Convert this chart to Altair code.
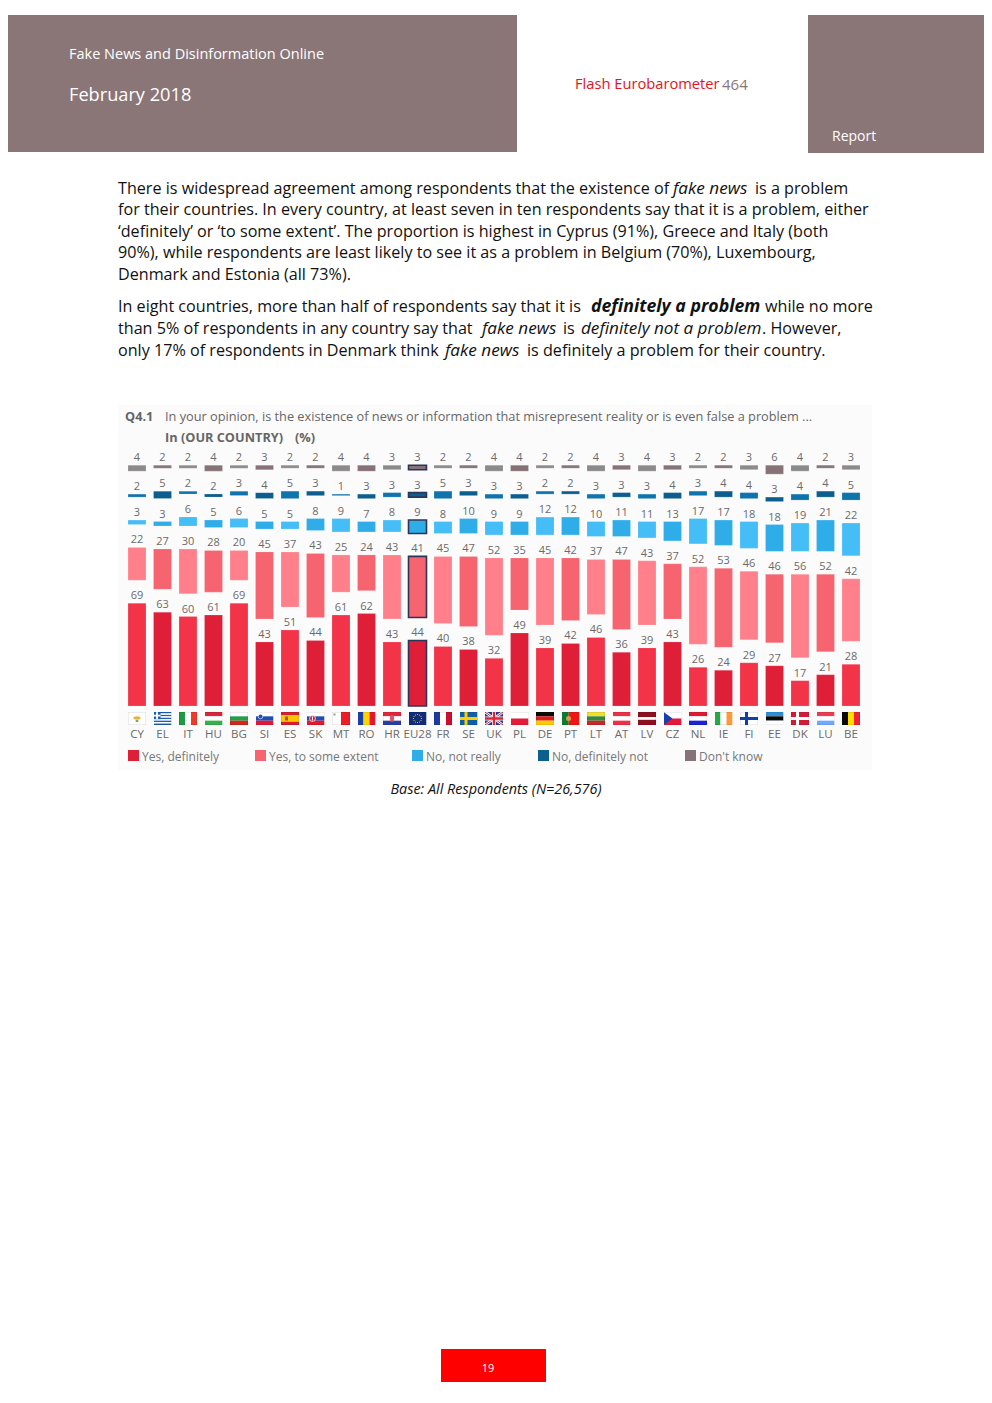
import base64
import altair as alt
import pandas as pd

countries = ["CY","EL","IT","HU","BG","SI","ES","SK","MT","RO","HR","EU28","FR","SE","UK","PL","DE","PT","LT","AT","LV","CZ","NL","IE","FI","EE","DK","LU","BE"]
yes_definitely = [69,63,60,61,69,43,51,44,61,62,43,44,40,38,32,49,39,42,46,36,39,43,26,24,29,27,17,21,28]
yes_some = [22,27,30,28,20,45,37,43,25,24,43,41,45,47,52,35,45,42,37,47,43,37,52,53,46,46,56,52,42]
no_not_really = [3,3,6,5,6,5,5,8,9,7,8,9,8,10,9,9,12,12,10,11,11,13,17,17,18,18,19,21,22]
no_definitely = [2,5,2,2,3,4,5,3,1,3,3,3,5,3,3,3,2,2,3,3,3,4,3,4,4,3,4,4,5]
dont_know = [4,2,2,4,2,3,2,2,4,4,3,3,2,2,4,4,2,2,4,3,4,3,2,2,3,6,4,2,3]
series_names = ["Yes, definitely","Yes, to some extent","No, not really","No, definitely not","Don't know"]
series_values = [yes_definitely,yes_some,no_not_really,no_definitely,dont_know]
light = ["#F23348","#FF808A","#45BDF7","#0F73AD","#8C8A8B"]
dark = ["#DF1F37","#F5646F","#2EADE8","#0B5E8E","#877377"]
GAP = 15.4

def stripes(cols, vertical=False, weights=None):
    weights = weights or [1]*len(cols)
    tot, pos, out = sum(weights), 0, ""
    for c, w in zip(cols, weights):
        if vertical:
            out += f'<rect x="{pos*18/tot}" y="0" width="{w*18/tot}" height="13" fill="{c}"/>'
        else:
            out += f'<rect x="0" y="{pos*13/tot}" width="18" height="{w*13/tot}" fill="{c}"/>'
        pos += w
    return out

def cross(bg, fg, cx=6.5, t=3):
    return f'<rect width="18" height="13" fill="{bg}"/><rect x="{cx-t/2}" width="{t}" height="13" fill="{fg}"/><rect y="{6.5-t/2}" width="18" height="{t}" fill="{fg}"/>'

eu_dots = "".join(f'<circle cx="{x}" cy="{y}" r="0.55" fill="#FFD617"/>' for x, y in
                  [(9,2.5),(11,3),(12.5,4.5),(13,6.5),(12.5,8.5),(11,10),(9,10.5),(7,10),(5.5,8.5),(5,6.5),(5.5,4.5),(7,3)])
flags = {
 "CY": '<rect width="18" height="13" fill="#fff"/><ellipse cx="9" cy="6" rx="3.6" ry="1.7" fill="#E8B13A"/><ellipse cx="9" cy="9" rx="1.6" ry="1" fill="#7F9A5A"/>',
 "EL": stripes(["#1F5FAF","#fff"]*4+["#1F5FAF"]) + '<rect width="7" height="7.2" fill="#1F5FAF"/><rect x="2.6" width="1.8" height="7.2" fill="#fff"/><rect y="2.7" width="7" height="1.8" fill="#fff"/>',
 "IT": stripes(["#1E9A45","#fff","#EE3B2B"],True),
 "HU": stripes(["#D9263B","#fff","#34B24A"]),
 "BG": stripes(["#fff","#1FA14A","#D5261E"]),
 "SI": stripes(["#fff","#1A4FB5","#E2183A"]) + '<circle cx="5" cy="4.5" r="2.3" fill="#2A4FA8" stroke="#fff" stroke-width=".6"/>',
 "ES": stripes(["#D91E2A","#FFC400","#D91E2A"],weights=[1,2,1]) + '<rect x="4" y="4.5" width="3" height="4" fill="#B5502A"/>',
 "SK": stripes(["#fff","#1C50B0","#E3182E"]) + '<circle cx="6" cy="6.5" r="3" fill="#D9263B" stroke="#fff" stroke-width=".7"/><rect x="5.5" y="4.5" width="1" height="4" fill="#fff"/>',
 "MT": stripes(["#fff","#EE1C25"],True) + '<rect x="1.5" y="1.5" width="2" height="2" fill="#999"/>',
 "RO": stripes(["#1B3FA8","#FFD500","#E3182E"],True),
 "HR": stripes(["#E3243B","#fff","#2B3FA0"]) + '<rect x="7" y="3.5" width="4" height="6" fill="#D65B6C"/>',
 "EU28": '<rect width="18" height="13" fill="#102C7D"/>' + eu_dots,
 "FR": stripes(["#1E3A9E","#fff","#C8102E"],True),
 "SE": cross("#0F5EA8","#FFCD00"),
 "UK": '<rect width="18" height="13" fill="#1F3F94"/><path d="M0 0L18 13M18 0L0 13" stroke="#fff" stroke-width="2.6"/><path d="M0 0L18 13M18 0L0 13" stroke="#D9263B" stroke-width="1"/><path d="M9 0V13M0 6.5H18" stroke="#fff" stroke-width="4"/><path d="M9 0V13M0 6.5H18" stroke="#D9263B" stroke-width="2.4"/>',
 "PL": stripes(["#fff","#E31B3A"]),
 "DE": stripes(["#0A0A0A","#DD1C1C","#FFCC00"]),
 "PT": stripes(["#0F7A2E","#F01414"],True,[2,3]) + '<circle cx="7" cy="6.5" r="2.5" fill="#C9A24A"/>',
 "LT": stripes(["#F2DE2E","#2E8B3A","#C9252D"]),
 "AT": stripes(["#EE2F45","#fff","#EE2F45"]),
 "LV": stripes(["#8C1020","#fff","#8C1020"],weights=[2,1,2]),
 "CZ": stripes(["#fff","#E3183A"]) + '<path d="M0 0L9 6.5L0 13Z" fill="#1B3FA8"/>',
 "NL": stripes(["#E3182E","#fff","#1B22D8"]),
 "IE": stripes(["#27A64A","#fff","#FF9A3C"],True),
 "FI": cross("#fff","#0F3FA8"),
 "EE": stripes(["#2E8FD8","#0A0A0A","#fff"]),
 "DK": cross("#D21C36","#fff"),
 "LU": stripes(["#EE3B4F","#fff","#6FA8FF"]),
 "BE": stripes(["#0A0A0A","#FFDD00","#EE2233"],True),
}
def flag_uri(body):
    edge = '<rect x=".25" y=".25" width="17.5" height="12.5" fill="none" stroke="#000" stroke-opacity=".14" stroke-width=".5"/>'
    svg = f'<svg xmlns="http://www.w3.org/2000/svg" width="18" height="13" viewBox="0 0 18 13">{body}{edge}</svg>'
    return "data:image/svg+xml;base64," + base64.b64encode(svg.encode()).decode()

rows = []
for ci, c in enumerate(countries):
    base = 0
    for si, s in enumerate(series_names):
        v = series_values[si][ci]
        col = (light if ci % 2 == 0 else dark)[si]
        rows.append(dict(country=c, series=s, value=v, y0=base, y1=base+v, shade=col, eu=c == "EU28"))
        base += v + GAP
df = pd.DataFrame(rows)
flag_df = pd.DataFrame({"country": countries, "url": [flag_uri(flags[c]) for c in countries]})

W, H = 976, 1387
OX, OY = 8, 8
x_scale = alt.Scale(domain=countries, range=[124.25-OX, 863.75-OX], paddingInner=0.295, paddingOuter=0.1475)
D = 100 + 4*GAP
y_scale = alt.Scale(domain=[0, D], range=[706-OY, 706-OY-1.49*D], nice=False, zero=False)
X = alt.X("country:N", scale=x_scale, sort=None, axis=None)

bars = alt.Chart(df).mark_bar(stroke="#FFFFFF", strokeOpacity=0.35, strokeWidth=0.5).encode(
    x=X, y=alt.Y("y0:Q", scale=y_scale, axis=None), y2="y1:Q",
    color=alt.Color("shade:N", scale=None))
eu_box = alt.Chart(df[df.eu]).mark_bar(fillOpacity=0, stroke="#2B3558", strokeWidth=1.6).encode(
    x=X, y=alt.Y("y0:Q", scale=y_scale, axis=None), y2="y1:Q")
labels = alt.Chart(df).mark_text(font="Open Sans", fontSize=11, color="#6A6A6A", baseline="bottom", dy=-2).encode(
    x=X, y=alt.Y("y1:Q", scale=y_scale, axis=None), text="value:Q")
flag_marks = alt.Chart(flag_df).mark_image(width=18, height=13).encode(
    x=X, y=alt.value(718.5-OY), url="url:N")
country_labels = alt.Chart(flag_df).mark_text(font="Open Sans", fontSize=11.5, color="#6A6A6A", baseline="middle").encode(
    x=X, y=alt.value(735-OY), text="country:N")

def box(x1, y1, x2, y2, color):
    return alt.Chart(pd.DataFrame({"a":[0]})).mark_rect(color=color).encode(
        x=alt.value(x1-OX), x2=alt.value(x2-OX), y=alt.value(y1-OY), y2=alt.value(y2-OY))

def txt(s, x, y, size, color="#000000", font="Open Sans", weight="normal", style="normal", align="left"):
    kw = dict(fontSize=size, color=color, font=font, fontWeight=weight, fontStyle=style, align=align, baseline="middle")
    return alt.Chart(pd.DataFrame({"a":[0]})).mark_text(**kw).encode(
        x=alt.value(x-OX), y=alt.value(y-OY), text=alt.value(s))

HDR = "#8A7677"
layers = [
    box(0,15,517,152,HDR), box(808,15,992,153,HDR), box(441,1349,546,1382,"#FF0000"),
    box(118,405,872,770,"#FCFBFC"),
    txt("Fake News and Disinformation Online",69,55,14.5,"#FFFFFF"),
    txt("February 2018",69,96,18.2,"#FFFFFF"),
    txt("Flash Eurobarometer",575,85,14.7,"#E3141B"),
    txt("464",722,85,15,"#8A7677"),
    txt("Report",832,137,14,"#FFFFFF"),
    txt("19",488,1369,11,"#FFFFFF",align="center"),
]
body_lines = [
 (189,[("There is widespread agreement among respondents that the existence of",118,"normal","normal"),("fake news",673,"normal","italic"),("is a problem",755,"normal","normal")]),
 (210,[("for their countries. In every country, at least seven in ten respondents say that it is a problem, either",118,"normal","normal")]),
 (232,[("‘definitely’ or ‘to some extent’. The proportion is highest in Cyprus (91%), Greece and Italy (both",118,"normal","normal")]),
 (253,[("90%), while respondents are least likely to see it as a problem in Belgium (70%), Luxembourg,",118,"normal","normal")]),
 (275,[("Denmark and Estonia (all 73%).",118,"normal","normal")]),
 (307,[("In eight countries, more than half of respondents say that it is",118,"normal","normal"),("definitely a problem",591,"bold","italic"),("while no more",765,"normal","normal")]),
 (329,[("than 5% of respondents in any country say that",118,"normal","normal"),("fake news",482,"normal","italic"),("is",563,"normal","normal"),("definitely not a problem",581,"normal","italic"),(". However,",762,"normal","normal")]),
 (351,[("only 17% of respondents in Denmark think",118,"normal","normal"),("fake news",445,"normal","italic"),("is definitely a problem for their country.",527,"normal","normal")]),
]
for y, segs in body_lines:
    for s, x, w, st in segs:
        size = 16.15 if st == "normal" else (17.7 if w == "bold" else 17.1)
        layers.append(txt(s, x, y, size, "#111111", weight=w, style=st))
GR = "#666666"
layers += [
    txt("Q4.1",125,417,12.75,GR,weight="bold"),
    txt("In your opinion, is the existence of news or information that misrepresent reality or is even false a problem ...",165,417,12.75,GR),
    txt("In (OUR COUNTRY)",165,438,12.75,GR,weight="bold"),
    txt("(%)",295,438,12.75,GR,weight="bold"),
    txt("Base: All Respondents (N=26,576)",496,790,14.4,"#111111",style="italic",align="center"),
]
legend_x = [128,255,412,538,685]
for i, (lx, name) in enumerate(zip(legend_x, series_names)):
    layers.append(box(lx,750,lx+11,761,dark[i]))
    layers.append(txt(name,lx+14,756.5,12,"#777777"))
layers += [bars, eu_box, labels, flag_marks, country_labels]

chart = alt.layer(*layers).properties(width=W, height=H, padding=0, autosize=alt.AutoSizeParams(type="none"), background="#FFFFFF").configure_view(stroke=None)
chart.save("out.html", embed_options={"renderer": "svg", "actions": False})
